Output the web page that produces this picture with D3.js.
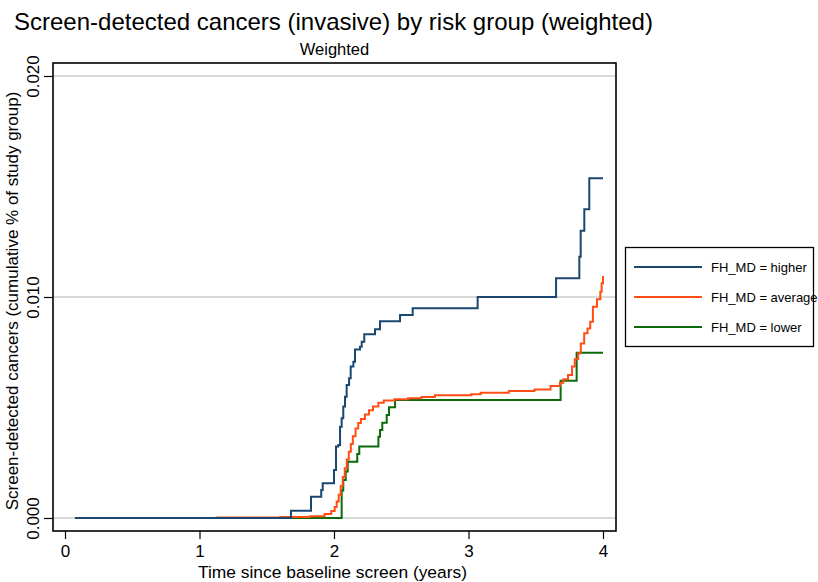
<!DOCTYPE html>
<html><head><meta charset="utf-8">
<script src="https://cdn.jsdelivr.net/npm/d3@7"></script>
<style>body{margin:0;background:#fff}svg{display:block;font-family:"Liberation Sans",Arial,sans-serif}</style>
</head><body><svg id="c" width="818" height="582"></svg>
<script>
const seriesNames = ["FH_MD = higher", "FH_MD = average", "FH_MD = lower"];
const seriesColors = ["#1a476f", "#ff4d14", "#0b6a0b"];
const xTicks = [0, 1, 2, 3, 4];
const yTicks = [0, 0.01, 0.02];
const yTickLabels = ["0.000", "0.010", "0.020"];

const higherT = [0.074,1.680,1.829,1.905,1.916,2.000,2.015,2.032,2.045,2.057,2.069,2.082,2.094,2.112,2.124,2.144,2.156,2.193,2.206,2.225,2.305,2.342,2.491,2.585,3.068,3.651,3.824,3.834,3.861,3.898,4.0];
const higherV = [0,0.00033,0.00096,0.00127,0.00157,0.00217,0.00323,0.0033,0.00413,0.00451,0.00504,0.00549,0.00602,0.00632,0.00685,0.00707,0.00763,0.00775,0.00798,0.00831,0.00854,0.0089,0.00919,0.00949,0.0100,0.01085,0.01182,0.013,0.01397,0.01537,0.01537];

const averageT = [0.074,1.13,1.60,1.82,1.93,1.98,2.005,2.02,2.035,2.05,2.065,2.08,2.095,2.11,2.125,2.14,2.16,2.18,2.20,2.23,2.26,2.29,2.33,2.37,2.45,2.55,2.65,2.75,3.02,3.09,3.30,3.49,3.61,3.68,3.705,3.74,3.77,3.79,3.815,3.835,3.86,3.885,3.905,3.925,3.955,3.98,3.99,4.0];
const averageV = [0,0.00002,0.00004,0.00008,0.00018,0.00032,0.0005,0.00075,0.00105,0.00145,0.00185,0.00225,0.00265,0.003,0.00335,0.0037,0.00405,0.0043,0.00448,0.00468,0.00488,0.00505,0.00522,0.00532,0.00537,0.00542,0.00547,0.00555,0.0056,0.00567,0.00575,0.00582,0.00597,0.00612,0.00628,0.00647,0.00685,0.00718,0.00745,0.0079,0.00836,0.00858,0.00888,0.00956,0.0099,0.01024,0.01062,0.01095];

const lowerT = [0.074,2.057,2.069,2.087,2.102,2.173,2.188,2.330,2.342,2.359,2.392,2.409,2.454,3.685,3.804,4.0];
const lowerV = [0,0.00125,0.00172,0.0021,0.00255,0.0029,0.00323,0.00368,0.00398,0.00431,0.00466,0.00501,0.00534,0.00621,0.00748,0.00748];

const svg = d3.select("#c");
const frame = {l:53, r:616, t:63, b:531};
const x = d3.scaleLinear().domain([0,4]).range([65,603]);
const y = d3.scaleLinear().domain([0,0.02]).range([518,76]);

// title
svg.append("text").attr("x",14).attr("y",30).attr("font-size",24).attr("fill","#000")
  .text("Screen-detected cancers (invasive) by risk group (weighted)");
svg.append("text").attr("x",(frame.l+frame.r)/2).attr("y",55).attr("text-anchor","middle")
  .attr("font-size",16.5).text("Weighted");

// gridlines
svg.append("g").selectAll("line").data(yTicks).join("line")
  .attr("x1",frame.l).attr("x2",frame.r).attr("y1",d=>y(d)).attr("y2",d=>y(d))
  .attr("stroke","#dadada").attr("stroke-width",2);

// series
const lineGen = d3.line().x(d=>x(d[0])).y(d=>y(d[1])).curve(d3.curveStepAfter);
const series = [d3.zip(higherT,higherV), d3.zip(averageT,averageV), d3.zip(lowerT,lowerV)];
[2,1,0].forEach(i=>{
  svg.append("path").attr("d",lineGen(series[i])).attr("fill","none")
    .attr("stroke",seriesColors[i]).attr("stroke-width",2);
});

// frame
svg.append("rect").attr("x",frame.l).attr("y",frame.t).attr("width",frame.r-frame.l).attr("height",frame.b-frame.t)
  .attr("fill","none").attr("stroke","#000").attr("stroke-width",1.6);

// x axis
const xa = svg.append("g").attr("transform",`translate(0,${frame.b})`)
  .call(d3.axisBottom(x).tickValues(xTicks).tickSize(8).tickPadding(6).tickFormat(d3.format("d")));
xa.select(".domain").remove();
xa.selectAll("line").attr("stroke","#000").attr("stroke-width",1.2);
xa.selectAll("text").attr("font-size",17).attr("font-family","Liberation Sans, Arial, sans-serif").attr("fill","#000");

// y axis
const ya = svg.append("g").attr("transform",`translate(${frame.l},0)`)
  .call(d3.axisLeft(y).tickValues(yTicks).tickSize(9).tickFormat((d,i)=>yTickLabels[i]));
ya.select(".domain").remove();
ya.selectAll("line").attr("stroke","#000").attr("stroke-width",1.2);
ya.selectAll("text").attr("font-size",17).attr("font-family","Liberation Sans, Arial, sans-serif").attr("fill","#000")
  .attr("transform","rotate(-90)").attr("x",0).attr("y",-14.5).attr("dy","0").attr("text-anchor","middle");

// axis titles
svg.append("text").attr("x",(frame.l+frame.r)/2 - 2).attr("y",578).attr("text-anchor","middle")
  .attr("font-size",17.4).text("Time since baseline screen (years)");
svg.append("text").attr("transform","translate(18,301) rotate(-90)").attr("text-anchor","middle")
  .attr("font-size",17).text("Screen-detected cancers (cumulative % of study group)");

// legend
const lg = svg.append("g");
lg.append("rect").attr("x",625.5).attr("y",247.5).attr("width",188).attr("height",99)
  .attr("fill","#fff").attr("stroke","#000").attr("stroke-width",1.3);
const ly = [267,297,327];
seriesNames.forEach((n,i)=>{
  lg.append("line").attr("x1",634).attr("x2",702).attr("y1",ly[i]).attr("y2",ly[i])
    .attr("stroke",seriesColors[i]).attr("stroke-width",2);
  lg.append("text").attr("x",711).attr("y",ly[i]+4.5).attr("font-size",13).text(n);
});
</script></body></html>
